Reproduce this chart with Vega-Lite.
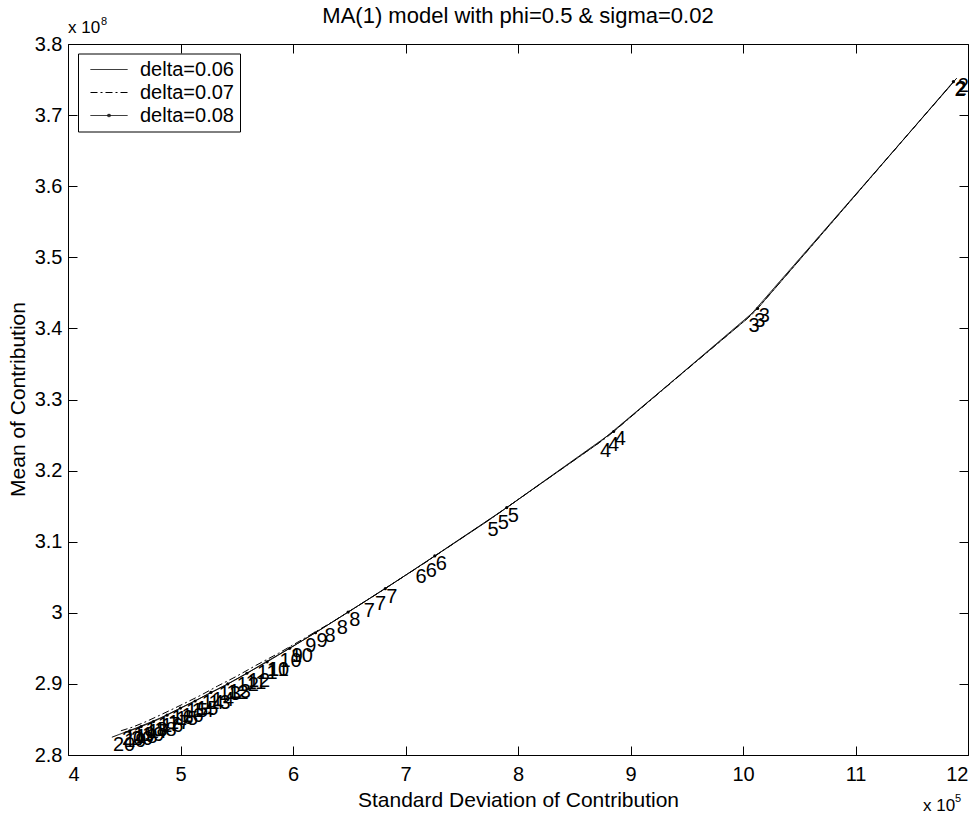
{
  "$schema": "https://vega.github.io/schema/vega-lite/v6.json",
  "width": 900,
  "height": 711,
  "autosize": {"type": "none"},
  "padding": {"left": 68, "top": 44, "right": 12, "bottom": 60},
  "background": "white",
  "config": {
    "font": "Liberation Sans",
    "view": {"stroke": "black", "strokeWidth": 1},
    "axis": {
      "domain": false, "grid": false, "tickColor": "black", "tickSize": -9, "tickWidth": 1,
      "labelColor": "black", "labelFontSize": 20, "labelFont": "Liberation Sans",
      "titleFont": "Liberation Sans", "titleFontSize": 21, "titleFontWeight": "normal", "titleColor": "black"
    }
  },
  "title": {
    "text": "MA(1) model with phi=0.5 & sigma=0.02",
    "fontSize": 22, "fontWeight": "normal", "font": "Liberation Sans", "color": "black",
    "anchor": "middle", "offset": -12
  },
  "data": {"values": [
    {"series": "delta=0.06", "k": 2, "sd": 11.88, "mean": 3.748},
    {"series": "delta=0.06", "k": 3, "sd": 10.04, "mean": 3.414},
    {"series": "delta=0.06", "k": 4, "sd": 8.72, "mean": 3.239},
    {"series": "delta=0.06", "k": 5, "sd": 7.72, "mean": 3.128},
    {"series": "delta=0.06", "k": 6, "sd": 7.08, "mean": 3.061},
    {"series": "delta=0.06", "k": 7, "sd": 6.62, "mean": 3.014},
    {"series": "delta=0.06", "k": 8, "sd": 6.27, "mean": 2.979},
    {"series": "delta=0.06", "k": 9, "sd": 5.98, "mean": 2.951},
    {"series": "delta=0.06", "k": 10, "sd": 5.76, "mean": 2.931},
    {"series": "delta=0.06", "k": 11, "sd": 5.57, "mean": 2.913},
    {"series": "delta=0.06", "k": 12, "sd": 5.40, "mean": 2.898},
    {"series": "delta=0.06", "k": 13, "sd": 5.24, "mean": 2.885},
    {"series": "delta=0.06", "k": 14, "sd": 5.09, "mean": 2.873},
    {"series": "delta=0.06", "k": 15, "sd": 4.95, "mean": 2.862},
    {"series": "delta=0.06", "k": 16, "sd": 4.82, "mean": 2.852},
    {"series": "delta=0.06", "k": 17, "sd": 4.70, "mean": 2.844},
    {"series": "delta=0.06", "k": 18, "sd": 4.59, "mean": 2.837},
    {"series": "delta=0.06", "k": 19, "sd": 4.49, "mean": 2.831},
    {"series": "delta=0.06", "k": 20, "sd": 4.39, "mean": 2.825},
    {"series": "delta=0.07", "k": 2, "sd": 11.90, "mean": 3.752},
    {"series": "delta=0.07", "k": 3, "sd": 10.09, "mean": 3.421},
    {"series": "delta=0.07", "k": 4, "sd": 8.79, "mean": 3.247},
    {"series": "delta=0.07", "k": 5, "sd": 7.81, "mean": 3.138},
    {"series": "delta=0.07", "k": 6, "sd": 7.17, "mean": 3.070},
    {"series": "delta=0.07", "k": 7, "sd": 6.72, "mean": 3.024},
    {"series": "delta=0.07", "k": 8, "sd": 6.38, "mean": 2.990},
    {"series": "delta=0.07", "k": 9, "sd": 6.10, "mean": 2.964},
    {"series": "delta=0.07", "k": 10, "sd": 5.87, "mean": 2.943},
    {"series": "delta=0.07", "k": 11, "sd": 5.67, "mean": 2.926},
    {"series": "delta=0.07", "k": 12, "sd": 5.49, "mean": 2.910},
    {"series": "delta=0.07", "k": 13, "sd": 5.33, "mean": 2.897},
    {"series": "delta=0.07", "k": 14, "sd": 5.18, "mean": 2.884},
    {"series": "delta=0.07", "k": 15, "sd": 5.04, "mean": 2.873},
    {"series": "delta=0.07", "k": 16, "sd": 4.91, "mean": 2.863},
    {"series": "delta=0.07", "k": 17, "sd": 4.79, "mean": 2.854},
    {"series": "delta=0.07", "k": 18, "sd": 4.68, "mean": 2.846},
    {"series": "delta=0.07", "k": 19, "sd": 4.57, "mean": 2.839},
    {"series": "delta=0.07", "k": 20, "sd": 4.47, "mean": 2.834},
    {"series": "delta=0.08", "k": 2, "sd": 11.87, "mean": 3.747},
    {"series": "delta=0.08", "k": 3, "sd": 10.13, "mean": 3.428},
    {"series": "delta=0.08", "k": 4, "sd": 8.85, "mean": 3.255},
    {"series": "delta=0.08", "k": 5, "sd": 7.90, "mean": 3.148},
    {"series": "delta=0.08", "k": 6, "sd": 7.26, "mean": 3.080},
    {"series": "delta=0.08", "k": 7, "sd": 6.82, "mean": 3.034},
    {"series": "delta=0.08", "k": 8, "sd": 6.49, "mean": 3.001},
    {"series": "delta=0.08", "k": 9, "sd": 6.20, "mean": 2.972},
    {"series": "delta=0.08", "k": 10, "sd": 5.97, "mean": 2.950},
    {"series": "delta=0.08", "k": 11, "sd": 5.77, "mean": 2.931},
    {"series": "delta=0.08", "k": 12, "sd": 5.59, "mean": 2.915},
    {"series": "delta=0.08", "k": 13, "sd": 5.42, "mean": 2.900},
    {"series": "delta=0.08", "k": 14, "sd": 5.27, "mean": 2.888},
    {"series": "delta=0.08", "k": 15, "sd": 5.13, "mean": 2.876},
    {"series": "delta=0.08", "k": 16, "sd": 5.00, "mean": 2.866},
    {"series": "delta=0.08", "k": 17, "sd": 4.88, "mean": 2.856},
    {"series": "delta=0.08", "k": 18, "sd": 4.76, "mean": 2.847},
    {"series": "delta=0.08", "k": 19, "sd": 4.65, "mean": 2.840},
    {"series": "delta=0.08", "k": 20, "sd": 4.55, "mean": 2.834}
  ]},
  "layer": [
    {
      "mark": {"type": "line", "strokeWidth": 1, "color": "black"},
      "encoding": {
        "x": {"field": "sd", "type": "quantitative",
              "scale": {"domain": [4, 12], "nice": false, "zero": false},
              "axis": {"orient": "bottom", "values": [4, 5, 6, 7, 8, 9, 10, 11, 12], "format": "d",
                       "labelPadding": 18, "title": "Standard Deviation of Contribution",
                       "titleY": 45, "titleBaseline": "middle"}},
        "y": {"field": "mean", "type": "quantitative",
              "scale": {"domain": [2.8, 3.8], "nice": false, "zero": false},
              "axis": {"orient": "left", "values": [2.8, 2.9, 3.0, 3.1, 3.2, 3.3, 3.4, 3.5, 3.6, 3.7, 3.8], "format": ".2~f",
                       "labelPadding": 15, "title": "Mean of Contribution",
                       "titleX": -50, "titleY": 355, "titleBaseline": "middle", "titleAngle": -90}},
        "strokeDash": {"field": "series", "type": "nominal",
              "scale": {"domain": ["delta=0.06", "delta=0.07", "delta=0.08"], "range": [[1, 0], [7, 3, 2, 3], [1, 0]]},
              "legend": {"title": null, "orient": "none", "legendX": 10, "legendY": 9.5,
                         "fillColor": "white", "strokeColor": "black", "padding": 6,
                         "symbolType": "stroke", "symbolSize": 1369, "symbolStrokeWidth": 1,
                         "symbolStrokeColor": "black", "symbolOffset": 6,
                         "labelFontSize": 20, "labelFont": "Liberation Sans", "labelColor": "black",
                         "labelOffset": 12, "rowPadding": 3, "clipHeight": 20,
                         "labelExpr": "datum.label + '\u00a0\u00a0'",
                         "encode": {"symbols": {"update": {
                           "stroke": {"value": "black"},
                           "opacity": {"value": 1},
                           "shape": {"signal": "datum.value === 'delta=0.08' ? 'M-1,0H1M-0.06,-0.06H0.06V0.06H-0.06Z' : 'stroke'"}}}}}},
        "order": {"field": "k", "type": "quantitative"}
      }
    },
    {
      "transform": [{"filter": "datum.series === 'delta=0.08'"}],
      "mark": {"type": "point", "filled": true, "size": 10, "color": "black", "opacity": 1},
      "encoding": {
        "x": {"field": "sd", "type": "quantitative",
              "axis": {"orient": "top", "values": [4, 5, 6, 7, 8, 9, 10, 11, 12], "labels": false, "title": null}},
        "y": {"field": "mean", "type": "quantitative",
              "axis": {"orient": "right", "values": [2.8, 2.9, 3.0, 3.1, 3.2, 3.3, 3.4, 3.5, 3.6, 3.7, 3.8], "labels": false, "title": null}}
      }
    },
    {
      "mark": {"type": "text", "align": "left", "baseline": "middle", "dx": 1, "dy": 8, "fontSize": 20, "color": "black", "font": "Liberation Sans"},
      "encoding": {
        "x": {"field": "sd", "type": "quantitative", "axis": null},
        "y": {"field": "mean", "type": "quantitative", "axis": null},
        "text": {"field": "k", "type": "nominal"}
      }
    },
    {
      "data": {"values": [{"t": "x 10"}]},
      "mark": {"type": "text", "align": "left", "baseline": "alphabetic", "dx": 0, "dy": -11, "fontSize": 17, "color": "black"},
      "encoding": {
        "x": {"datum": 4, "type": "quantitative", "axis": null},
        "y": {"datum": 3.8, "type": "quantitative", "axis": null},
        "text": {"field": "t"}
      }
    },
    {
      "data": {"values": [{"t": "8"}]},
      "mark": {"type": "text", "align": "left", "baseline": "alphabetic", "dx": 33, "dy": -19, "fontSize": 11, "color": "black"},
      "encoding": {
        "x": {"datum": 4, "type": "quantitative", "axis": null},
        "y": {"datum": 3.8, "type": "quantitative", "axis": null},
        "text": {"field": "t"}
      }
    },
    {
      "data": {"values": [{"t": "x 10"}]},
      "mark": {"type": "text", "align": "left", "baseline": "alphabetic", "dx": -45, "dy": 56, "fontSize": 17, "color": "black"},
      "encoding": {
        "x": {"datum": 12, "type": "quantitative", "axis": null},
        "y": {"datum": 2.8, "type": "quantitative", "axis": null},
        "text": {"field": "t"}
      }
    },
    {
      "data": {"values": [{"t": "5"}]},
      "mark": {"type": "text", "align": "left", "baseline": "alphabetic", "dx": -13, "dy": 47, "fontSize": 11, "color": "black"},
      "encoding": {
        "x": {"datum": 12, "type": "quantitative", "axis": null},
        "y": {"datum": 2.8, "type": "quantitative", "axis": null},
        "text": {"field": "t"}
      }
    }
  ],
  "resolve": {"axis": {"x": "independent", "y": "independent"}}
}
